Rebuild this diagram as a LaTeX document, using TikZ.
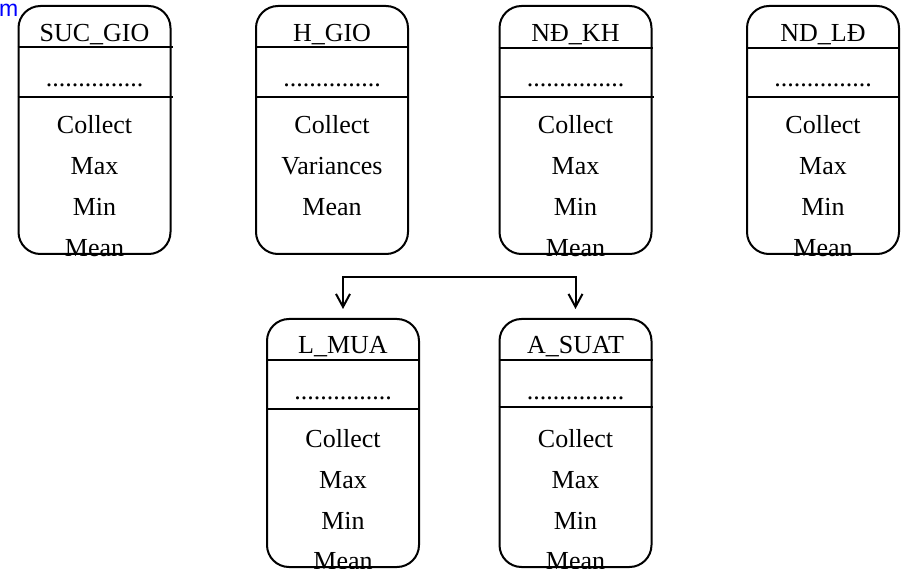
\documentclass[tikz,border=0pt]{standalone}
\usepackage{fontspec}
\setmainfont{Liberation Serif}
\newfontfamily\labelsans{Liberation Sans}
\usetikzlibrary{arrows.meta}
\begin{document}
\begin{tikzpicture}[x=1pt,y=-1pt,
        box/.style={draw,line width=2pt,rounded corners=22pt,
            minimum width=152pt,minimum height=248pt,inner sep=0pt},
        sep/.style={line width=1.8pt},
        lbl/.style={anchor=base,inner sep=0pt,font=\fontsize{26}{30}\selectfont},
        arr/.style={line width=2pt,
            {Straight Barb[length=13pt,width=14pt]}-{Straight Barb[length=13pt,width=14pt]},
            shorten <=9pt,shorten >=9pt}]
\useasboundingbox (0,0) rectangle (903,569);

\node[anchor=base west,inner sep=0pt,text=blue,font=\labelsans\fontsize{23}{26}\selectfont] (cut) at (-1,17) {m};

\node[box] (suc) at (94.5,130) {};
\node[box] (hgio) at (332,130) {};
\node[box] (ndkh) at (575.5,130) {};
\node[box] (ndld) at (823,130) {};
\node[box] (lmua) at (343,443) {};
\node[box] (asuat) at (575.5,443) {};

\draw[sep] (suc.west |- 0,47) -- ([xshift=1pt]suc.east |- 0,47);
\draw[sep] (suc.west |- 0,97) -- ([xshift=1pt]suc.east |- 0,97);
\draw[sep] (hgio.west |- 0,47) -- (hgio.east |- 0,47);
\draw[sep] (hgio.west |- 0,97) -- (hgio.east |- 0,97);
\draw[sep] (ndkh.west |- 0,48) -- (ndkh.east |- 0,48);
\draw[sep] (ndkh.west |- 0,97) -- ([xshift=1pt]ndkh.east |- 0,97);
\draw[sep] (ndld.west |- 0,48) -- (ndld.east |- 0,48);
\draw[sep] (ndld.west |- 0,97) -- (ndld.east |- 0,97);
\draw[sep] (lmua.west |- 0,360) -- (lmua.east |- 0,360);
\draw[sep] (lmua.west |- 0,409) -- (lmua.east |- 0,409);
\draw[sep] (asuat.west |- 0,360) -- (asuat.east |- 0,360);
\draw[sep] (asuat.west |- 0,407) -- (asuat.east |- 0,407);

\node[lbl] at (94.5,42) {SUC\_GIO};
\node[lbl] at (94.5,87) {...............};
\node[lbl] at (94.5,134) {Collect};
\node[lbl] at (94.5,175) {Max};
\node[lbl] at (94.5,216) {Min};
\node[lbl] at (94.5,257) {Mean};

\node[lbl] at (332,42) {H\_GIO};
\node[lbl] at (332,87) {...............};
\node[lbl] at (332,134) {Collect};
\node[lbl] at (332,175) {Variances};
\node[lbl] at (332,216) {Mean};

\node[lbl] at (575.5,42) {NĐ\_KH};
\node[lbl] at (575.5,87) {...............};
\node[lbl] at (575.5,134) {Collect};
\node[lbl] at (575.5,175) {Max};
\node[lbl] at (575.5,216) {Min};
\node[lbl] at (575.5,257) {Mean};

\node[lbl] at (823,42) {ND\_LĐ};
\node[lbl] at (823,87) {...............};
\node[lbl] at (823,134) {Collect};
\node[lbl] at (823,175) {Max};
\node[lbl] at (823,216) {Min};
\node[lbl] at (823,257) {Mean};

\node[lbl] at (343,354) {L\_MUA};
\node[lbl] at (343,400) {...............};
\node[lbl] at (343,447) {Collect};
\node[lbl] at (343,488) {Max};
\node[lbl] at (343,529) {Min};
\node[lbl] at (343,569) {Mean};

\node[lbl] at (575.5,354) {A\_SUAT};
\node[lbl] at (575.5,400) {...............};
\node[lbl] at (575.5,447) {Collect};
\node[lbl] at (575.5,488) {Max};
\node[lbl] at (575.5,529) {Min};
\node[lbl] at (575.5,569) {Mean};

\coordinate (fork) at (460,277);
\draw[arr] (lmua.north) |- (fork) -| (asuat.north);
\end{tikzpicture}
\end{document}
